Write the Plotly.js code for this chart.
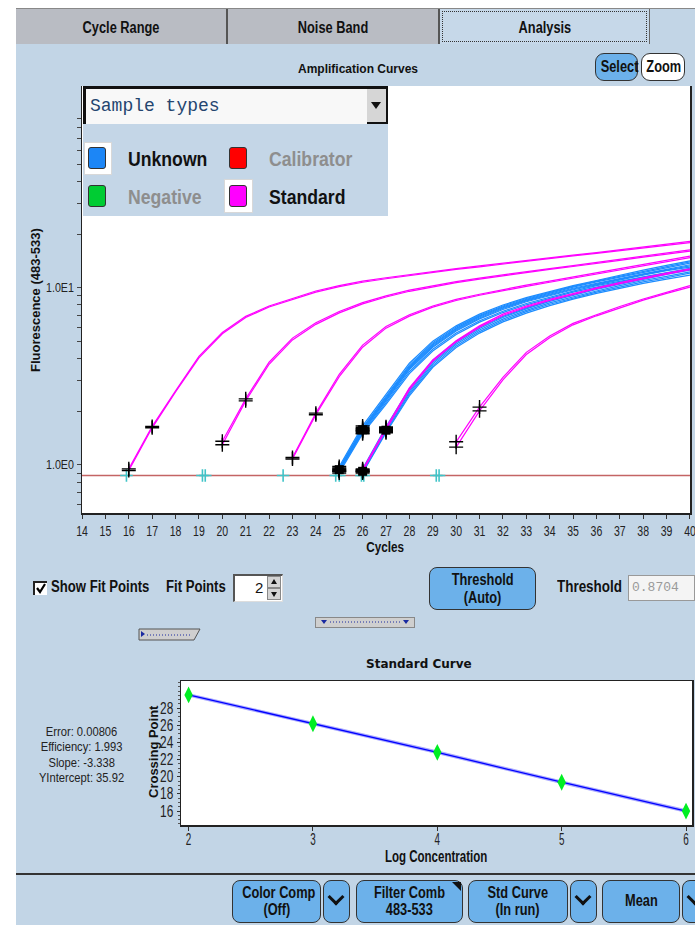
<!DOCTYPE html>
<html><head><meta charset="utf-8">
<script src="https://cdn.plot.ly/plotly-3.0.1.min.js"></script>
<style>
html,body{margin:0;padding:0;width:695px;height:925px;overflow:hidden;background:#fff;font-family:"Liberation Sans",Arial,sans-serif;}
.abs{position:absolute;box-sizing:border-box;}
#bg{left:16px;top:9px;width:679px;height:916px;background:#c2d5e6;}
#plot{position:absolute;left:0;top:0;width:695px;height:925px;z-index:1;}
.ui{z-index:2;}
.c{display:inline-block;transform:scaleX(0.8);transform-origin:center center;white-space:nowrap;}
.cl{display:inline-block;transform:scaleX(0.84);transform-origin:left center;white-space:nowrap;}
.tab{top:9px;height:35px;background:#b9bcc3;font-weight:bold;font-size:16px;color:#111;text-align:center;line-height:37px;border-right:2px solid #555;}
.btn{background:#6cb1ea;border:1.5px solid #333;border-radius:8px;font-weight:bold;font-size:16px;color:#111;text-align:center;line-height:17px;}
.sw{width:18px;height:22px;border:1.5px solid #333;border-radius:3px;}
.frame{background:#fff;border:1px solid #d8d8d8;}
.lbl{font-weight:bold;font-size:21px;color:#111;line-height:22px;white-space:nowrap;}
.gray{color:#8e8e8e;}
.chev{width:12px;height:12px;border-right:3px solid #111;border-bottom:3px solid #111;transform:rotate(45deg);}
.txt{font-weight:bold;font-size:16px;color:#111;white-space:nowrap;}
</style></head>
<body>
<div id="bg" class="abs"></div>
<div id="plot"></div>

<!-- tabs -->
<div class="abs ui" style="left:16px;top:8px;width:679px;height:1px;background:#888;"></div>
<div class="abs ui tab" style="left:16px;width:212px;"><span class="c">Cycle Range</span></div>
<div class="abs ui tab" style="left:228px;width:212px;"><span class="c">Noise Band</span></div>
<div class="abs ui tab" style="left:440px;width:210px;background:#c6d8e9;border-right:1px solid #666;"><div class="abs" style="left:2px;top:2px;right:2px;bottom:2px;border:1px dotted #333;"></div><span class="c">Analysis</span></div>

<!-- select / zoom -->
<div class="abs ui btn" style="left:595px;top:53px;width:43px;height:28px;line-height:25px;border-radius:9px;"><span class="c">Select</span></div>
<div class="abs ui btn" style="left:641px;top:53px;width:44px;height:28px;line-height:25px;border-radius:9px;background:#fff;"><span class="c">Zoom</span></div>

<!-- legend overlay -->
<div class="abs ui" style="left:83px;top:86px;width:305px;height:38px;background:#f8f8f8;border-top:3px solid #111;border-left:3px solid #111;"></div>
<div class="abs ui" style="left:90px;top:96px;font-family:'Liberation Mono','DejaVu Sans Mono',monospace;font-size:18px;color:#24456f;">Sample types</div>
<div class="abs ui" style="left:367px;top:89px;width:21px;height:35px;background:#d6d6d6;border-right:2px solid #111;border-bottom:2px solid #111;"><div class="abs" style="left:4px;top:13px;width:0;height:0;border-left:5px solid transparent;border-right:5px solid transparent;border-top:7px solid #111;"></div></div>
<div class="abs ui" style="left:83px;top:124px;width:305px;height:92px;background:#c4d6e7;"></div>
<div class="abs ui frame" style="left:84px;top:142px;width:28px;height:33px;"></div>
<div class="abs ui sw" style="left:88px;top:147px;background:#1c86f6;"></div>
<div class="abs ui lbl" style="left:128px;top:148px;"><span class="cl">Unknown</span></div>
<div class="abs ui sw" style="left:229px;top:147px;background:#ff0000;"></div>
<div class="abs ui lbl gray" style="left:269px;top:148px;"><span class="cl">Calibrator</span></div>
<div class="abs ui sw" style="left:88px;top:185px;background:#00cc33;"></div>
<div class="abs ui lbl gray" style="left:128px;top:186px;"><span class="cl">Negative</span></div>
<div class="abs ui frame" style="left:224px;top:179px;width:29px;height:34px;"></div>
<div class="abs ui sw" style="left:229px;top:185px;background:#ff00ff;"></div>
<div class="abs ui lbl" style="left:269px;top:186px;"><span class="cl">Standard</span></div>

<!-- controls -->
<div class="abs ui" style="left:33px;top:581px;width:14px;height:14px;background:#fff;border-top:2px solid #222;border-left:2px solid #222;">
<svg width="12" height="12" style="position:absolute;left:0;top:0"><polyline points="2,5 5,9 10,1" fill="none" stroke="#000" stroke-width="2.2"/></svg></div>
<div class="abs ui txt" style="left:51px;top:578px;"><span class="cl" style="transform:scaleX(0.82)">Show Fit Points</span></div>
<div class="abs ui txt" style="left:166px;top:578px;"><span class="cl" style="transform:scaleX(0.82)">Fit Points</span></div>
<div class="abs ui" style="left:233px;top:574px;width:50px;height:28px;background:#fff;border-top:2px solid #555;border-left:2px solid #555;border-right:1px solid #ddd;border-bottom:1px solid #ddd;"></div>
<div class="abs ui" style="left:255px;top:579px;font-size:15px;color:#111;">2</div>
<div class="abs ui" style="left:267px;top:576px;width:14px;height:12px;background:#d4d4d4;border:1px solid #888;"><div class="abs" style="left:3px;top:2px;border-left:3px solid transparent;border-right:3px solid transparent;border-bottom:5px solid #111;"></div></div>
<div class="abs ui" style="left:267px;top:588px;width:14px;height:12px;background:#d4d4d4;border:1px solid #888;"><div class="abs" style="left:3px;top:3px;border-left:3px solid transparent;border-right:3px solid transparent;border-top:5px solid #111;"></div></div>
<div class="abs ui btn" style="left:429px;top:567px;width:107px;height:43px;padding-top:3px;line-height:18px;font-size:16px;"><span class="c">Threshold</span><br><span class="c">(Auto)</span></div>
<div class="abs ui txt" style="left:557px;top:578px;"><span class="cl" style="transform:scaleX(0.84)">Threshold</span></div>
<div class="abs ui" style="left:628px;top:575px;width:67px;height:26px;background:#f4f4f4;border:1px solid #999;font-family:'Liberation Mono',monospace;font-size:13px;color:#9a9a9a;line-height:24px;padding-left:3px;">0.8704</div>
<svg class="abs ui" style="left:138px;top:628px;" width="64" height="13"><polygon points="1,1 62,1 56,12 1,12" fill="#cfcfcf" stroke="#555" stroke-width="1"/><polygon points="3,3 7,6 3,9" fill="#1a2aa0"/><line x1="9" y1="7" x2="52" y2="7" stroke="#1a2aa0" stroke-dasharray="1,2"/></svg>
<svg class="abs ui" style="left:315px;top:617px;" width="100" height="11"><rect x="0.5" y="0.5" width="99" height="10" fill="#cfcfcf" stroke="#888"/><polygon points="6,3 12,3 9,7" fill="#1a2aa0"/><polygon points="88,3 94,3 91,7" fill="#1a2aa0"/><line x1="15" y1="5" x2="85" y2="5" stroke="#1a2aa0" stroke-dasharray="1,2"/></svg>

<!-- bottom bar -->
<div class="abs ui" style="left:16px;top:873px;width:679px;height:2px;background:#333;"></div>
<div class="abs ui btn" style="left:232px;top:880px;width:89px;height:43px;padding-top:3px;"><span class="c">Color Comp</span><br><span class="c">(Off)</span></div>
<div class="abs ui btn" style="left:323px;top:880px;width:27px;height:43px;"><div class="abs chev" style="left:6px;top:10px;"></div></div>
<div class="abs ui btn" style="left:356px;top:880px;width:107px;height:43px;padding-top:3px;"><span class="c">Filter Comb</span><br><span class="c">483-533</span><div class="abs" style="right:1px;top:1px;width:0;height:0;border-left:9px solid transparent;border-top:9px solid #111;"></div></div>
<div class="abs ui btn" style="left:468px;top:880px;width:100px;height:43px;padding-top:3px;"><span class="c">Std Curve</span><br><span class="c">(In run)</span></div>
<div class="abs ui btn" style="left:570px;top:880px;width:27px;height:43px;"><div class="abs chev" style="left:6px;top:10px;"></div></div>
<div class="abs ui btn" style="left:602px;top:880px;width:78px;height:43px;line-height:40px;"><span class="c">Mean</span></div>
<div class="abs ui btn" style="left:682px;top:880px;width:27px;height:43px;"><div class="abs chev" style="left:6px;top:10px;"></div></div>

<script>
// ---------- data ----------
const CYCLES = [14,15,16,17,18,19,20,21,22,23,24,25,26,27,28,29,30,31,32,33,34,35,36,37,38,39,40];
const X_TICKS = [14,15,16,17,18,19,20,21,22,23,24,25,26,27,28,29,30,31,32,33,34,35,36,37,38,39,40];
const Y_TICKVALS = [0.6,0.7,0.8,0.9,1,2,3,4,5,6,7,8,9,10,20,30,40,50,60,70,80,90];
const Y_TICKTEXT = ["","","","","1.0E0","","","","","","","","","1.0E1","","","","","","","",""];
const THRESHOLD = 0.8704;

// Standards (magenta), duplicates; first value at the listed start cycle
const STD_START = [16,16,20,20,23,23,26,26,30,30];
const STD_1A = [0.95,1.65,2.62,4.10,5.60,6.90,7.90,8.75,9.60,10.3,10.9,11.4,11.9,12.4,12.85,13.3,13.8,14.3,14.8,15.3,15.8,16.4,17.0,17.6,18.3];
const STD_1B = [0.93,1.62,2.58,4.02,5.50,6.80,7.80,8.62,9.45,10.15,10.75,11.25,11.75,12.25,12.7,13.15,13.65,14.15,14.65,15.15,15.65,16.2,16.8,17.4,18.0];
const STD_2A = [1.36,2.36,3.80,5.20,6.35,7.35,8.25,9.00,9.70,10.3,10.85,11.35,11.85,12.35,12.85,13.35,13.9,14.5,15.1,15.7,16.4];
const STD_2B = [1.30,2.30,3.70,5.08,6.22,7.22,8.12,8.88,9.56,10.15,10.7,11.2,11.7,12.2,12.7,13.2,13.7,14.3,14.9,15.5,16.1];
const STD_3A = [1.10,1.96,3.25,4.75,6.05,7.05,7.90,8.60,9.20,9.80,10.35,10.9,11.5,12.1,12.8,13.5,14.3,15.1];
const STD_3B = [1.08,1.92,3.15,4.62,5.92,6.92,7.78,8.48,9.08,9.66,10.2,10.75,11.35,11.95,12.6,13.3,14.0,14.8];
const STD_4A = [0.94,1.62,2.72,3.92,5.02,6.10,7.10,7.90,8.62,9.30,10.0,10.7,11.4,12.1,12.8];
const STD_4B = [0.92,1.58,2.65,3.85,4.95,6.00,6.98,7.78,8.50,9.18,9.88,10.55,11.25,11.95,12.65];
const STD_5A = [1.35,2.12,3.12,4.32,5.35,6.30,7.05,7.85,8.65,9.45,10.3];
const STD_5B = [1.26,2.02,3.02,4.20,5.22,6.18,6.95,7.72,8.52,9.30,10.1];

// Unknowns (blue): group A starts at cycle 25, group B at cycle 26
const UNK_START = [25,25,25,25,25,25,25,25,26,26,26,26,26];
const UNK_A1 = [0.98,1.66,2.50,3.75,5.00,6.10,7.10,8.00,8.80,9.55,10.3,11.0,11.8,12.6,13.4,14.2];
const UNK_A2 = [0.96,1.62,2.44,3.66,4.90,6.00,7.00,7.90,8.70,9.45,10.2,10.9,11.6,12.4,13.2,14.0];
const UNK_A3 = [0.95,1.60,2.40,3.60,4.82,5.92,6.92,7.80,8.60,9.35,10.1,10.8,11.5,12.2,13.0,13.8];
const UNK_A4 = [0.94,1.58,2.36,3.55,4.75,5.85,6.85,7.72,8.52,9.25,9.95,10.6,11.3,12.0,12.7,13.5];
const UNK_A5 = [0.93,1.56,2.33,3.50,4.68,5.78,6.76,7.64,8.44,9.15,9.85,10.5,11.2,11.9,12.6,13.3];
const UNK_A6 = [0.92,1.55,2.30,3.45,4.62,5.70,6.68,7.55,8.34,9.05,9.75,10.4,11.1,11.8,12.5,13.1];
const UNK_A7 = [0.92,1.52,2.25,3.36,4.50,5.56,6.52,7.38,8.16,8.88,9.58,10.3,10.9,11.6,12.3,12.9];
const UNK_A8 = [0.90,1.50,2.20,3.28,4.40,5.45,6.40,7.25,8.02,8.75,9.45,10.1,10.8,11.5,12.1,12.7];
const UNK_B1 = [0.95,1.64,2.70,3.90,5.00,6.00,6.90,7.70,8.50,9.20,9.90,10.6,11.3,12.0,12.8];
const UNK_B2 = [0.93,1.60,2.62,3.80,4.90,5.90,6.80,7.60,8.38,9.08,9.78,10.5,11.2,11.9,12.6];
const UNK_B3 = [0.92,1.57,2.56,3.72,4.80,5.78,6.66,7.46,8.22,8.92,9.60,10.3,11.0,11.6,12.3];
const UNK_B4 = [0.91,1.54,2.50,3.64,4.70,5.66,6.54,7.34,8.08,8.78,9.46,10.1,10.8,11.4,12.1];
const UNK_B5 = [0.90,1.52,2.45,3.56,4.60,5.55,6.42,7.20,7.94,8.64,9.30,9.95,10.6,11.2,11.8];

// crossing points marked on the threshold line
const CROSSING_MARKS = [15.9,19.15,19.27,22.6,24.85,25.0,25.95,26.05,29.15,29.27];

// standard curve
const LOG_CONC = [2,3,4,5,6];
const CROSSING_POINT = [29.55,26.18,22.85,19.36,16.0];
const SC_YTICKS = [16,18,20,22,24,26,28];
const STATS = ["Error: 0.00806","Efficiency: 1.993","Slope: -3.338","YIntercept: 35.92"];

// ---------- build ----------
const W = 695, H = 925;
const fx = p => p / W, fy = p => 1 - p / H;
const cyc = (start, n) => { const i = CYCLES.indexOf(start); return CYCLES.slice(i, i + n); };

const STD = [STD_1A,STD_1B,STD_2A,STD_2B,STD_3A,STD_3B,STD_4A,STD_4B,STD_5A,STD_5B];
const UNK = [UNK_A1,UNK_A2,UNK_A3,UNK_A4,UNK_A5,UNK_A6,UNK_A7,UNK_A8,UNK_B1,UNK_B2,UNK_B3,UNK_B4,UNK_B5];

const traces = [];
traces.push({x:[CYCLES[0], CYCLES[CYCLES.length-1]], y:[THRESHOLD, THRESHOLD], mode:'lines', line:{color:'#c46464', width:1.6}, xaxis:'x', yaxis:'y', hoverinfo:'skip'});
UNK.forEach((v,i)=>traces.push({x:cyc(UNK_START[i], v.length), y:v, mode:'lines', line:{color:'#1c8cff', width:1.2}, xaxis:'x', yaxis:'y'}));
STD.forEach((v,i)=>traces.push({x:cyc(STD_START[i], v.length), y:v, mode:'lines', line:{color:'#ff00ff', width:1.2}, xaxis:'x', yaxis:'y'}));

// fit points: first two points of each curve
const fpx = [], fpy = [];
[...UNK.map((v,i)=>[v,UNK_START[i]]), ...STD.map((v,i)=>[v,STD_START[i]])].forEach(([v,s])=>{
  const c = cyc(s, 2); fpx.push(c[0], c[1]); fpy.push(v[0], v[1]);
});
traces.push({x:CROSSING_MARKS, y:CROSSING_MARKS.map(()=>THRESHOLD), mode:'markers', marker:{symbol:'cross-thin', size:9, line:{color:'#40c4c8', width:1.6}}, xaxis:'x', yaxis:'y'});
traces.push({x:fpx, y:fpy, mode:'markers', marker:{symbol:'cross-thin', size:10, line:{color:'#000', width:1.4}}, xaxis:'x', yaxis:'y'});
traces.push({x:[...cyc(UNK_START[3],2), ...cyc(UNK_START[10],2)], y:[UNK_A4[0],UNK_A4[1],UNK_B3[0],UNK_B3[1]], mode:'markers', marker:{symbol:'square', size:9, color:'#000'}, xaxis:'x', yaxis:'y'});

// standard curve
traces.push({x:LOG_CONC, y:CROSSING_POINT, mode:'lines', line:{color:'#a8a8ff', width:3.5}, xaxis:'x2', yaxis:'y2'});
traces.push({x:LOG_CONC, y:CROSSING_POINT, mode:'lines+markers', line:{color:'#0000ff', width:1.3}, marker:{symbol:'diamond-tall', size:12, color:'#00ee22'}, xaxis:'x2', yaxis:'y2'});

const SANS = '"Liberation Sans",Arial,sans-serif';
const ann = (text, x, y, size, opts={}) => Object.assign({text, x:fx(x), y:fy(y), xref:'paper', yref:'paper', showarrow:false, xanchor:'center', yanchor:'middle', font:{family:SANS, size, color:'#111'}}, opts);

const layout = {
  width:W, height:H, margin:{l:0,r:0,t:0,b:0},
  paper_bgcolor:'rgba(0,0,0,0)', plot_bgcolor:'#fff', showlegend:false,
  xaxis:{domain:[fx(82), fx(690)], range:[13.999, 40.001], tickvals:X_TICKS, ticks:'outside', ticklen:4, tickcolor:'#333', ticklabeloverflow:'allow', ticklabelstandoff:-1, showline:true, linecolor:'#222', linewidth:1.5, showgrid:false, zeroline:false, tickfont:{family:SANS, size:15, color:'#222'}, anchor:'y'},
  yaxis:{domain:[fy(513), fy(86)], type:'log', range:[Math.log10(0.535), Math.log10(138)], tickvals:Y_TICKVALS, ticktext:Y_TICKTEXT, ticks:'outside', ticklen:4, tickcolor:'#444', showline:true, mirror:true, linecolor:'#222', linewidth:1.5, showgrid:false, zeroline:false, tickfont:{family:SANS, size:13, color:'#222'}, anchor:'x'},
  xaxis2:{domain:[fx(181), fx(692)], range:[1.939, 6.048], tickvals:LOG_CONC, ticks:'outside', ticklen:4, tickcolor:'#333', ticklabeloverflow:'allow', ticklabelstandoff:-5, showline:true, mirror:true, linecolor:'#222', linewidth:1.5, showgrid:false, zeroline:false, tickfont:{family:SANS, size:16, color:'#222'}, anchor:'y2'},
  yaxis2:{domain:[fy(825), fy(681)], range:[14.37, 31.17], tickvals:SC_YTICKS, ticks:'outside', ticklen:3, tickcolor:'#333', minor:{ticks:'outside', ticklen:2, dtick:0.5, tickcolor:'#555'}, showline:true, mirror:true, linecolor:'#222', linewidth:1.5, showgrid:false, zeroline:false, tickfont:{family:SANS, size:16, color:'#222'}, anchor:'x2'},
  annotations:[
    ann('<b>Amplification Curves</b>', 358, 69, 12),
    ann('<b>Fluorescence (483-533)</b>', 35, 300, 13, {textangle:-90}),
    ann('<b>Cycles</b>', 385, 546, 15),
    ann('<b>Standard Curve</b>', 419, 664, 12, {font:{family:'"DejaVu Sans",sans-serif', size:12, color:'#111'}}),
    ann('<b>Crossing Point</b>', 153, 752, 13, {textangle:-90}),
    ann('<b>Log Concentration</b>', 436, 856, 16),
    ...STATS.map((s,i)=>ann(s, 81, 731 + i*15.5, 13, {font:{family:SANS, size:13, color:'#222'}}))
  ]
};

function shrink(t, k){
  const L = t.getComputedTextLength();
  if (L > 0){ t.setAttribute('textLength', (L*k).toFixed(1)); t.setAttribute('lengthAdjust','spacingAndGlyphs'); }
}
function condense(sel, k){ document.querySelectorAll(sel).forEach(t=>shrink(t,k)); }
Plotly.newPlot('plot', traces, layout, {staticPlot:true, displayModeBar:false}).then(()=>{
  condense('#plot g.xtick text', 0.7);
  condense('#plot g.ytick text', 0.82);
  condense('#plot g.x2tick text', 0.62);
  condense('#plot g.y2tick text', 0.74);
  const anns = document.querySelectorAll('#plot g.annotation');
  const kk = [1,1,0.78,1,1,0.72,0.86,0.86,0.86,0.86];
  anns.forEach((g,i)=>{ if (kk[i] < 1) g.querySelectorAll('text').forEach(t=>shrink(t,kk[i])); });
});
</script>
</body></html>
